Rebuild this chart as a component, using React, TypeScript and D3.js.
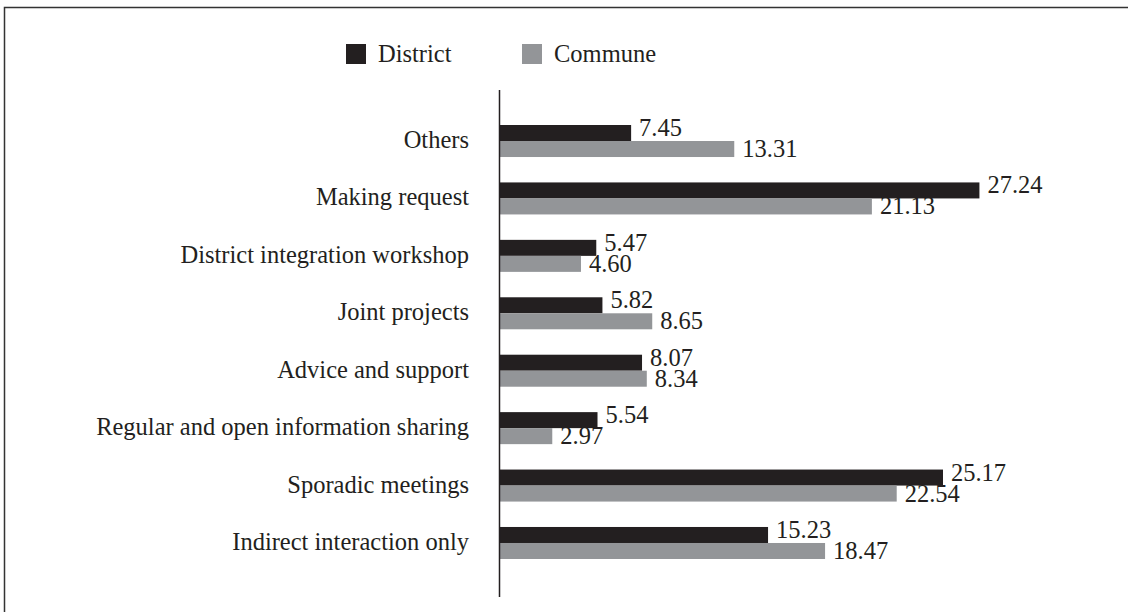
import React from "react";
import * as d3 from "d3";

const categories = [
  "Others",
  "Making request",
  "District integration workshop",
  "Joint projects",
  "Advice and support",
  "Regular and open information sharing",
  "Sporadic meetings",
  "Indirect interaction only",
];
const seriesNames = ["District", "Commune"];
const districtValues = [7.45, 27.24, 5.47, 5.82, 8.07, 5.54, 25.17, 15.23];
const communeValues = [13.31, 21.13, 4.6, 8.65, 8.34, 2.97, 22.54, 18.47];
const colors = ["#231f20", "#939598"];

export default function App() {
  const W = 1128;
  const H = 612;
  const axisX = 500;
  const font = "'Liberation Serif', 'Times New Roman', serif";
  const fs = 24.5;

  const x = d3.scaleLinear().domain([0, 30]).range([axisX, axisX + 30 * 17.6]);
  const y = d3
    .scaleBand<string>()
    .domain(categories)
    .range([112.3, 571.7])
    .paddingInner(0.4425)
    .paddingOuter(0.22125);
  const inner = d3.scaleBand<string>().domain(seriesNames).range([0, y.bandwidth()]);
  const values = [districtValues, communeValues];

  return (
    <svg
      width={W}
      height={H}
      style={{ position: "absolute", left: 0, top: 0, background: "#fff" }}
    >
      <rect x={4.5} y={7.5} width={1140} height={620} fill="none" stroke="#333" strokeWidth={1.5} />

      {/* legend */}
      {seriesNames.map((s, i) => {
        const lx = i === 0 ? 346 : 522;
        return (
          <g key={s}>
            <rect x={lx} y={44} width={20} height={20} fill={colors[i]} />
            <text x={lx + 32} y={62} fontFamily={font} fontSize={fs} fill="#231f20">
              {s}
            </text>
          </g>
        );
      })}

      {/* bars */}
      {categories.map((c, ci) => (
        <g key={c}>
          <text
            x={469}
            y={(y(c) as number) + y.bandwidth() / 2 + 7}
            textAnchor="end"
            fontFamily={font}
            fontSize={fs}
            fill="#231f20"
          >
            {c}
          </text>
          {seriesNames.map((s, si) => {
            const v = values[si][ci];
            const by = (y(c) as number) + (inner(s) as number);
            return (
              <g key={s}>
                <rect
                  x={x(0)}
                  y={by}
                  width={x(v) - x(0)}
                  height={inner.bandwidth()}
                  fill={colors[si]}
                />
                <text
                  x={x(v) + 8}
                  y={by + inner.bandwidth() / 2 + (si === 0 ? 3 : 8)}
                  fontFamily={font}
                  fontSize={fs}
                  fill="#231f20"
                >
                  {v.toFixed(2)}
                </text>
              </g>
            );
          })}
        </g>
      ))}

      <line x1={axisX - 0.5} x2={axisX - 0.5} y1={90} y2={597} stroke="#231f20" strokeWidth={1.5} />
    </svg>
  );
}
